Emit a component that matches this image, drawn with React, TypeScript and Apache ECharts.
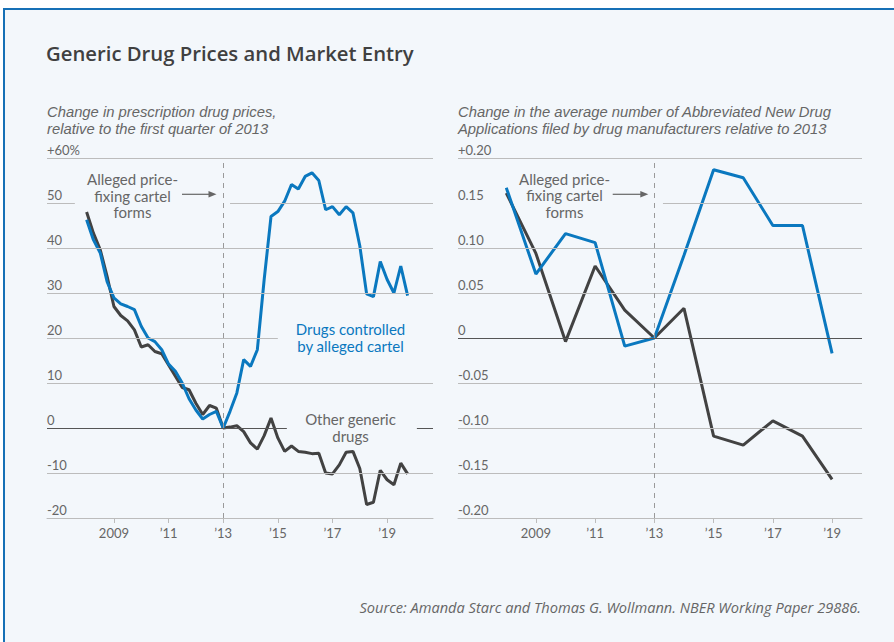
import React, { useEffect, useRef } from "react";
import * as echarts from "echarts";

// ---------- data ----------
const quarterStartYear = 2008; // first quarter of 2008, quarterly points
const cartelPriceChange = [
  46.3, 41.8, 38.9, 32.5, 28.9, 27.6, 27.0, 26.3, 22.6, 20.0, 19.2, 17.4,
  14.2, 12.6, 10.0, 6.5, 4.0, 2.0, 3.0, 3.7, 0.0, 3.7, 7.8, 15.2,
  13.7, 17.4, 33.0, 47.0, 48.1, 50.4, 54.1, 53.1, 55.9, 56.7, 55.0, 48.5,
  49.2, 47.4, 49.2, 47.8, 40.5, 29.8, 29.2, 37.0, 33.0, 30.0, 36.0, 29.4,
];
const otherPriceChange = [
  48.0, 43.3, 39.6, 33.7, 27.0, 25.0, 23.8, 21.8, 18.0, 18.5, 17.0, 16.5,
  14.0, 11.5, 9.0, 8.5, 5.5, 3.0, 5.0, 4.4, 0.0, 0.2, 0.5, -0.8,
  -3.3, -4.7, -1.7, 2.2, -2.2, -5.2, -4.0, -5.2, -5.4, -5.7, -5.6, -10.0,
  -10.2, -8.2, -5.4, -5.2, -9.0, -17.0, -16.5, -9.4, -11.5, -12.6, -7.8, -10.2,
];
const applicationYears = [2008, 2009, 2010, 2011, 2012, 2013, 2014, 2015, 2016, 2017, 2018, 2019];
const cartelApplications = [0.167, 0.071, 0.116, 0.106, -0.009, 0, 0.092, 0.187, 0.178, 0.125, 0.125, -0.017];
const otherApplications = [0.161, 0.094, -0.004, 0.08, 0.031, 0, 0.033, -0.109, -0.119, -0.092, -0.109, -0.157];

const yearTicks = [2009, 2011, 2013, 2015, 2017, 2019];
const leftYTicks = [-20, -10, 0, 10, 20, 30, 40, 50, 60];
const rightYTicks = [-0.2, -0.15, -0.1, -0.05, 0, 0.05, 0.1, 0.15, 0.2];
const cartelFormsYear = 2013;

// ---------- styling / layout ----------
const BLUE = "#0a78bf";
const DARK = "#424242";
const GRID = "#bcbcbc";
const ZERO = "#555555";
const TEXT = "#666666";
const BG = "#f3f7fb";
const BORDER = "#1670b6";
const FONT = "Lato, 'Open Sans', sans-serif";
const FONT_WIDE = "'Open Sans', Lato, sans-serif";
const FONT_SUB = "'Liberation Sans', Arial, sans-serif";

const leftX = { min: 2006.55, max: 2020.68 };
const rightX = { min: 2006.37, max: 2020.01 };
// gridline gaps behind annotations, in data units
const leftGaps = [
  { y: 50, from: 2007.57, to: 2013.25 },
  { y: 20, from: 2015.0, to: 2021 },
  { y: 0, from: 2015.33, to: 2020.09 },
];
const rightGaps = [{ y: 0.15, from: 2006, to: 2013.29 }];

function gridSegments(
  ticks: number[],
  xMin: number,
  xMax: number,
  gaps: { y: number; from: number; to: number }[],
  skip: number
) {
  const out: any[] = [];
  ticks.forEach((v) => {
    if (v === skip) return;
    let segs: number[][] = [[xMin, xMax]];
    gaps
      .filter((g) => g.y === v)
      .forEach((g) => {
        segs = segs.flatMap(([a, b]) => {
          const r: number[][] = [];
          if (g.from > a) r.push([a, Math.min(b, g.from)]);
          if (g.to < b) r.push([Math.max(a, g.to), b]);
          return r;
        });
      });
    segs.forEach(([a, b]) =>
      out.push([
        { coord: [a, v], lineStyle: { color: v === 0 ? ZERO : GRID, width: 1, type: "solid" } },
        { coord: [b, v] },
      ])
    );
  });
  return out;
}

function yearLabel(v: number) {
  return v === 2009 ? "2009" : "\u2019" + String(v).slice(2);
}

function xAxisOf(gridIndex: number, range: { min: number; max: number }) {
  return {
    type: "value",
    gridIndex,
    min: range.min,
    max: range.max,
    splitLine: { show: false },
    axisLine: { show: true, onZero: false, lineStyle: { color: GRID, width: 1 } },
    axisTick: { show: true, customValues: yearTicks, length: 5, lineStyle: { color: GRID } },
    axisLabel: {
      customValues: yearTicks,
      formatter: yearLabel,
      color: TEXT,
      fontSize: 13,
      fontFamily: FONT,
      margin: 8,
    },
  };
}

function yAxisOf(gridIndex: number, min: number, max: number, interval: number, fmt: (v: number) => string) {
  return {
    type: "value",
    gridIndex,
    min,
    max,
    interval,
    splitLine: { show: false },
    axisLine: { show: false },
    axisTick: { show: false },
    axisLabel: {
      inside: true,
      margin: 0,
      verticalAlign: "bottom",
      padding: [0, 0, 2, 0],
      color: TEXT,
      fontSize: 13,
      fontFamily: FONT,
      formatter: fmt,
    },
  };
}

function txt(text: string, x: number, y: number, opts: any = {}) {
  const align = opts.align || "left";
  return {
    type: "text",
    x,
    y,
    z: 10,
    silent: true,
    style: {
      text,
      fill: opts.color || TEXT,
      fontSize: opts.size || 14,
      fontFamily: opts.family || FONT,
      fontWeight: opts.weight || "normal",
      fontStyle: opts.italic ? "italic" : "normal",
      lineHeight: opts.lineHeight,
      align,
      textAlign: align,
      verticalAlign: "middle",
      textVerticalAlign: "middle",
    },
  };
}

function arrow(x1: number, x2: number, y: number) {
  return [
    { type: "line", z: 10, silent: true, shape: { x1, y1: y, x2: x2 - 6, y2: y }, style: { stroke: TEXT, lineWidth: 1.2 } },
    {
      type: "polygon",
      z: 10,
      silent: true,
      shape: { points: [[x2, y], [x2 - 8, y - 3.2], [x2 - 8, y + 3.2]] },
      style: { fill: TEXT },
    },
  ];
}

export default function App() {
  const ref = useRef<HTMLDivElement>(null);

  useEffect(() => {
    if (!ref.current) return;
    const chart = echarts.init(ref.current, null, { renderer: "svg" });

    const leftGridLines = gridSegments(leftYTicks, leftX.min, leftX.max, leftGaps, -20);
    const rightGridLines = gridSegments(rightYTicks, rightX.min, rightX.max, rightGaps, -0.2);

    const dashed = (ymin: number, ymax: number) => [
      { coord: [cartelFormsYear, ymin], lineStyle: { color: "#9a9a9a", width: 1, type: [5, 5] } },
      { coord: [cartelFormsYear, ymax] },
    ];

    const quarterX = (i: number) => quarterStartYear + i / 4;

    const option: any = {
      animation: false,
      backgroundColor: "transparent",
      textStyle: { fontFamily: FONT },
      grid: [
        { left: 47, right: 461, top: 158, bottom: 124 },
        { left: 458, right: 32, top: 158, bottom: 124 },
      ],
      xAxis: [xAxisOf(0, leftX), xAxisOf(1, rightX)],
      yAxis: [
        yAxisOf(0, -20, 60, 10, (v: number) => (v === 60 ? "+60%" : String(v))),
        yAxisOf(1, -0.2, 0.2, 0.05, (v: number) =>
          Math.abs(v) < 1e-9 ? "0" : v > 0.199 ? "+0.20" : v.toFixed(2)
        ),
      ],
      series: [
        {
          type: "line",
          xAxisIndex: 0,
          yAxisIndex: 0,
          data: [],
          z: 1,
          silent: true,
          markLine: {
            silent: true,
            symbol: ["none", "none"],
            label: { show: false },
            emphasis: { disabled: true },
            data: [...leftGridLines, dashed(-20, 60)],
          },
        },
        {
          type: "line",
          xAxisIndex: 0,
          yAxisIndex: 0,
          name: "Other generic drugs",
          data: otherPriceChange.map((v, i) => [quarterX(i), v]),
          symbol: "none",
          z: 3,
          lineStyle: { color: DARK, width: 3 },
        },
        {
          type: "line",
          xAxisIndex: 0,
          yAxisIndex: 0,
          name: "Drugs controlled by alleged cartel",
          data: cartelPriceChange.map((v, i) => [quarterX(i), v]),
          symbol: "none",
          z: 4,
          lineStyle: { color: BLUE, width: 3 },
        },
        {
          type: "line",
          xAxisIndex: 1,
          yAxisIndex: 1,
          data: [],
          z: 1,
          silent: true,
          markLine: {
            silent: true,
            symbol: ["none", "none"],
            label: { show: false },
            emphasis: { disabled: true },
            data: [...rightGridLines, dashed(-0.2, 0.2)],
          },
        },
        {
          type: "line",
          xAxisIndex: 1,
          yAxisIndex: 1,
          name: "Other generic drugs",
          data: otherApplications.map((v, i) => [applicationYears[i], v]),
          symbol: "none",
          z: 3,
          lineStyle: { color: DARK, width: 3 },
        },
        {
          type: "line",
          xAxisIndex: 1,
          yAxisIndex: 1,
          name: "Drugs controlled by alleged cartel",
          data: cartelApplications.map((v, i) => [applicationYears[i], v]),
          symbol: "none",
          z: 4,
          lineStyle: { color: BLUE, width: 3 },
        },
      ],
      graphic: [
        txt("Generic Drug Prices and Market Entry", 46, 53, {
          size: 20.3,
          weight: 600,
          color: "#404040",
          family: FONT_WIDE,
        }),
        txt("Change in prescription drug prices,", 47, 112, { italic: true, size: 14.8, family: FONT_SUB }),
        txt("relative to the first quarter of 2013", 47, 129, { italic: true, size: 14.8, family: FONT_SUB }),
        txt("Change in the average number of Abbreviated New Drug", 458, 112, {
          italic: true,
          size: 14.8,
          family: FONT_SUB,
        }),
        txt("Applications filed by drug manufacturers relative to 2013", 458, 129, {
          italic: true,
          size: 14.8,
          family: FONT_SUB,
        }),
        txt("Alleged price-\nfixing cartel\nforms", 132.5, 195.5, { align: "center", size: 15, lineHeight: 16.5 }),
        ...arrow(182, 216.5, 194.3),
        txt("Alleged price-\nfixing cartel\nforms", 564.5, 195, { align: "center", size: 15, lineHeight: 16.5 }),
        ...arrow(612.7, 648.3, 194.3),
        txt("Drugs controlled\nby alleged cartel", 350.5, 337.3, {
          align: "center",
          size: 15,
          lineHeight: 16.5,
          color: BLUE,
        }),
        txt("Other generic\ndrugs", 350.5, 427.3, { align: "center", size: 15, lineHeight: 16.5 }),
        txt("Source: Amanda Starc and Thomas G. Wollmann. NBER Working Paper 29886.", 861, 606.7, {
          italic: true,
          align: "right",
          size: 14.6,
          family: FONT_WIDE,
        }),
      ],
    };

    chart.setOption(option);
    return () => chart.dispose();
  }, []);

  return (
    <div
      style={{
        position: "fixed",
        left: 0,
        top: 0,
        width: 894,
        height: 642,
        background: "#ffffff",
        overflow: "hidden",
      }}
    >
      <div
        style={{
          position: "absolute",
          left: 3,
          top: 8,
          width: 1000,
          height: 1000,
          boxSizing: "border-box",
          borderLeft: `2px solid ${BORDER}`,
          borderTop: `2px solid ${BORDER}`,
          background: BG,
        }}
      />
      <div ref={ref} style={{ position: "absolute", left: 0, top: 0, width: 894, height: 642 }} />
    </div>
  );
}
